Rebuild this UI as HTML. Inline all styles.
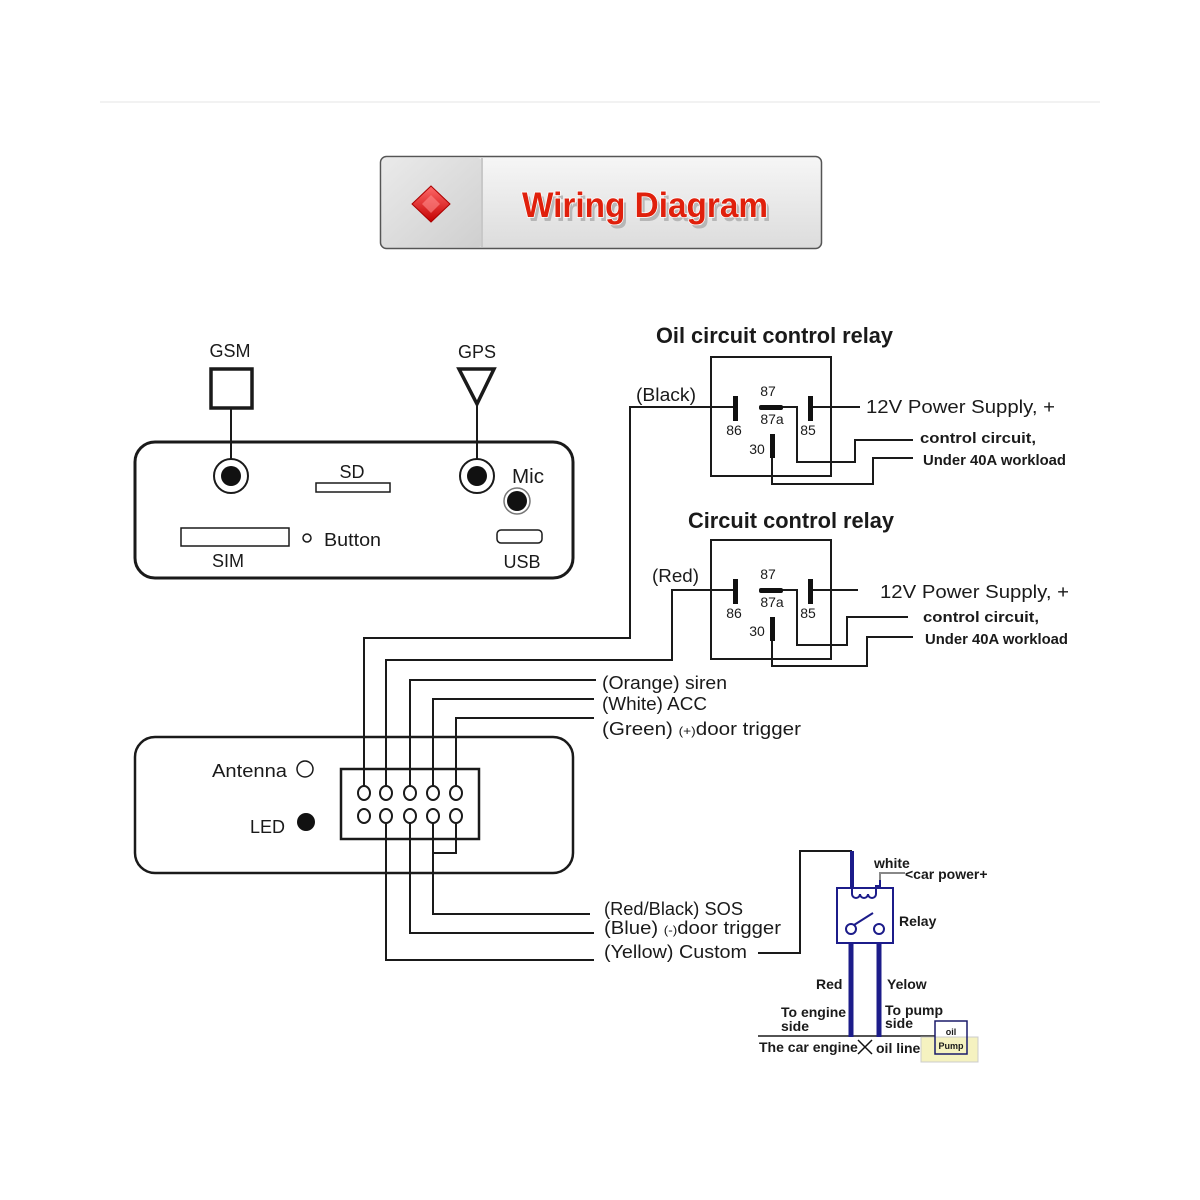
<!DOCTYPE html>
<html><head><meta charset="utf-8"><style>
html,body{margin:0;padding:0;background:#fff}
svg{display:block}
text{font-family:"Liberation Sans",sans-serif;fill:#1a1a1a}
</style></head><body>
<svg width="1200" height="1200" viewBox="0 0 1200 1200" xmlns="http://www.w3.org/2000/svg">
<defs>
<linearGradient id="hg" x1="0" y1="0" x2="0" y2="1"><stop offset="0" stop-color="#f6f6f6"/><stop offset="1" stop-color="#dcdcdc"/></linearGradient>
<linearGradient id="lg" x1="0" y1="0" x2="1" y2="1"><stop offset="0" stop-color="#eaeaea"/><stop offset="1" stop-color="#cfcfcf"/></linearGradient>
<linearGradient id="dg" x1="0" y1="0" x2="0" y2="1"><stop offset="0" stop-color="#ff6a6a"/><stop offset="1" stop-color="#c40000"/></linearGradient>
</defs>
<line x1="100" y1="102" x2="1100" y2="102" stroke="#f2f2f2" stroke-width="2"/>
<!-- header -->
<rect x="380.5" y="156.5" width="441" height="92" rx="6" fill="url(#hg)" stroke="#555" stroke-width="1.5"/>
<rect x="382" y="158" width="100" height="89" rx="4" fill="url(#lg)"/>
<line x1="482" y1="158" x2="482" y2="247" stroke="#c8c8c8" stroke-width="2"/>
<polygon points="431,186 450,204 431,222 412,204" fill="url(#dg)" stroke="#a00" stroke-width="1"/>
<polygon points="431,195 440,204 431,213 422,204" fill="#ff8a8a" opacity="0.6"/>
<text x="525" y="221" font-size="35" font-weight="bold" textLength="246" lengthAdjust="spacingAndGlyphs" style="fill:#999" opacity="0.6">Wiring Diagram</text>
<text x="522" y="217" font-size="35" font-weight="bold" textLength="246" lengthAdjust="spacingAndGlyphs" style="fill:#e0200c;stroke:#fff;stroke-width:1.5;paint-order:stroke">Wiring Diagram</text>

<g stroke="#1a1a1a" fill="none" stroke-width="2">
<rect x="135" y="442" width="438" height="136" rx="20" stroke-width="3"/>
<rect x="211" y="369" width="41" height="39" stroke-width="3.5"/>
<line x1="231" y1="408" x2="231" y2="460"/>
<polygon points="459,369 494,369 477,404" stroke-width="3.5"/>
<line x1="477" y1="404" x2="477" y2="460"/>
<circle cx="231" cy="476" r="17"/>
<circle cx="477" cy="476" r="17"/>
<rect x="316" y="483" width="74" height="9" stroke-width="1.5"/>
<rect x="181" y="528" width="108" height="18" stroke-width="1.5"/>
<circle cx="307" cy="538" r="4" stroke-width="1.5"/>
<rect x="497" y="530" width="45" height="13" rx="4" stroke-width="1.5"/>
<circle cx="517" cy="501" r="13" stroke-width="1.5" stroke="#777"/>
<rect x="711" y="357" width="120" height="119"/>
<polyline points="735,407 630,407 630,638 364,638 364,787"/>
<line x1="810" y1="407" x2="860" y2="407"/>
<polyline points="782,407 797,407 797,462 855,462 855,440 913,440"/>
<polyline points="772,446 772,484 873,484 873,458 913,458"/>
<rect x="711" y="540" width="120" height="119"/>
<polyline points="735,590 672,590 672,660 386,660 386,787"/>
<line x1="810" y1="590" x2="858" y2="590"/>
<polyline points="782,590 797,590 797,645 847,645 847,617 908,617"/>
<polyline points="772,629 772,666 867,666 867,637 913,637"/>
<rect x="135" y="737" width="438" height="136" rx="20" stroke-width="2.5"/>
<rect x="341" y="769" width="138" height="70" stroke-width="2.5"/>
<polyline points="410,787 410,680 596,680"/>
<polyline points="433,787 433,699 594,699"/>
<polyline points="456,787 456,718 594,718"/>
<polyline points="456,822 456,853 433,853"/>
<polyline points="433,822 433,914 590,914"/>
<polyline points="410,822 410,933 594,933"/>
<polyline points="386,822 386,960 594,960"/>
<polyline points="758,953 800,953 800,851 852,851"/>
<line x1="758" y1="1036" x2="935" y2="1036" stroke-width="1.5"/>
<circle cx="305" cy="769" r="8" stroke-width="1.5"/>
</g>
<g fill="#fff" stroke="#1a1a1a" stroke-width="2">
<ellipse cx="364" cy="793" rx="6" ry="7"/><ellipse cx="386" cy="793" rx="6" ry="7"/><ellipse cx="410" cy="793" rx="6" ry="7"/><ellipse cx="433" cy="793" rx="6" ry="7"/><ellipse cx="456" cy="793" rx="6" ry="7"/>
<ellipse cx="364" cy="816" rx="6" ry="7"/><ellipse cx="386" cy="816" rx="6" ry="7"/><ellipse cx="410" cy="816" rx="6" ry="7"/><ellipse cx="433" cy="816" rx="6" ry="7"/><ellipse cx="456" cy="816" rx="6" ry="7"/>
</g>
<g fill="#111">
<circle cx="231" cy="476" r="10"/><circle cx="477" cy="476" r="10"/><circle cx="517" cy="501" r="10"/>
<circle cx="306" cy="822" r="9"/>
<rect x="733" y="396" width="5" height="25"/><rect x="808" y="396" width="5" height="25"/><rect x="759" y="405" width="24" height="5" rx="2"/><rect x="770" y="434" width="5" height="24"/>
<rect x="733" y="579" width="5" height="25"/><rect x="808" y="579" width="5" height="25"/><rect x="759" y="588" width="24" height="5" rx="2"/><rect x="770" y="617" width="5" height="24"/>
</g>
<g font-size="18" lengthAdjust="spacingAndGlyphs">
<text x="230" y="357" text-anchor="middle">GSM</text>
<text x="477" y="358" text-anchor="middle">GPS</text>
<text x="352" y="478" text-anchor="middle">SD</text>
<text x="512" y="483" font-size="20" textLength="32" lengthAdjust="spacingAndGlyphs">Mic</text>
<text x="324" y="546" textLength="57" lengthAdjust="spacingAndGlyphs">Button</text>
<text x="228" y="567" text-anchor="middle">SIM</text>
<text x="522" y="568" text-anchor="middle">USB</text>
<text x="212" y="777" textLength="75" lengthAdjust="spacingAndGlyphs">Antenna</text>
<text x="250" y="833" textLength="35" lengthAdjust="spacingAndGlyphs">LED</text>
<text x="656" y="343" font-size="22" font-weight="bold" textLength="237" lengthAdjust="spacingAndGlyphs">Oil circuit control relay</text>
<text x="688" y="528" font-size="22" font-weight="bold" textLength="206" lengthAdjust="spacingAndGlyphs">Circuit control relay</text>
<text x="636" y="401" textLength="60" lengthAdjust="spacingAndGlyphs">(Black)</text>
<text x="652" y="582" textLength="47" lengthAdjust="spacingAndGlyphs">(Red)</text>
<text x="866" y="413" textLength="189" lengthAdjust="spacingAndGlyphs">12V Power Supply,  +</text>
<text x="880" y="598" textLength="189" lengthAdjust="spacingAndGlyphs">12V Power Supply,  +</text>
<text x="602" y="689" textLength="125" lengthAdjust="spacingAndGlyphs">(Orange) siren</text>
<text x="602" y="710" textLength="105" lengthAdjust="spacingAndGlyphs">(White) ACC</text>
<text x="602" y="735" textLength="199" lengthAdjust="spacingAndGlyphs">(Green) <tspan font-size="12">(+)</tspan>door trigger</text>
<text x="604" y="915" textLength="139" lengthAdjust="spacingAndGlyphs">(Red/Black) SOS</text>
<text x="604" y="934" textLength="177" lengthAdjust="spacingAndGlyphs">(Blue) <tspan font-size="12">(-)</tspan>door trigger</text>
<text x="604" y="958" textLength="143" lengthAdjust="spacingAndGlyphs">(Yellow) Custom</text>
</g>
<g font-size="15" font-weight="bold">
<text x="920" y="443" textLength="116" lengthAdjust="spacingAndGlyphs">control circuit,</text>
<text x="923" y="465" textLength="143" lengthAdjust="spacingAndGlyphs">Under 40A workload</text>
<text x="923" y="622" textLength="116" lengthAdjust="spacingAndGlyphs">control circuit,</text>
<text x="925" y="644" textLength="143" lengthAdjust="spacingAndGlyphs">Under 40A workload</text>
</g>
<g font-size="14">
<text x="768" y="396" text-anchor="middle">87</text><text x="772" y="424" text-anchor="middle">87a</text>
<text x="734" y="435" text-anchor="middle">86</text><text x="808" y="435" text-anchor="middle">85</text><text x="757" y="454" text-anchor="middle">30</text>
<text x="768" y="579" text-anchor="middle">87</text><text x="772" y="607" text-anchor="middle">87a</text>
<text x="734" y="618" text-anchor="middle">86</text><text x="808" y="618" text-anchor="middle">85</text><text x="757" y="636" text-anchor="middle">30</text>
</g>
<rect x="921" y="1037" width="57" height="25" fill="#f5f2c0" stroke="#ccc"/>
<rect x="935" y="1021" width="32" height="33" fill="none" stroke="#1a1a6a" stroke-width="1.5"/>
<g stroke="#1c1c8a" fill="none" stroke-width="2">
<line x1="852" y1="851" x2="852" y2="887" stroke-width="4"/>
<rect x="837" y="888" width="56" height="55"/>
<path d="M852,888 v6 a4,4 0 0 0 8,0 a4,4 0 0 0 8,0 a4,4 0 0 0 8,0 v-8 h4 v-8"/>
<polyline points="880,880 880,873 905,873" stroke="#888"/>
<circle cx="851" cy="929" r="5" fill="#fff"/><circle cx="879" cy="929" r="5" fill="#fff"/>
<line x1="854" y1="925" x2="873" y2="913"/>
<line x1="851" y1="943" x2="851" y2="1037" stroke-width="5"/>
<line x1="879" y1="943" x2="879" y2="1037" stroke-width="5"/>
</g>
<g stroke="#111" stroke-width="1.5"><line x1="858" y1="1040" x2="872" y2="1054"/><line x1="872" y1="1040" x2="858" y2="1054"/></g>
<g font-size="14" font-weight="bold">
<text x="874" y="868">white</text>
<text x="905" y="879">&lt;car power+</text>
<text x="899" y="926">Relay</text>
<text x="816" y="989">Red</text>
<text x="887" y="989">Yelow</text>
<text x="781" y="1017">To engine</text><text x="781" y="1031">side</text>
<text x="885" y="1015">To pump</text><text x="885" y="1028">side</text>
<text x="759" y="1052">The car engine</text>
<text x="876" y="1053">oil line</text>
<text x="951" y="1035" font-size="9" text-anchor="middle">oil</text>
<text x="951" y="1049" font-size="9" text-anchor="middle">Pump</text>
</g>
</svg>
</body></html>
